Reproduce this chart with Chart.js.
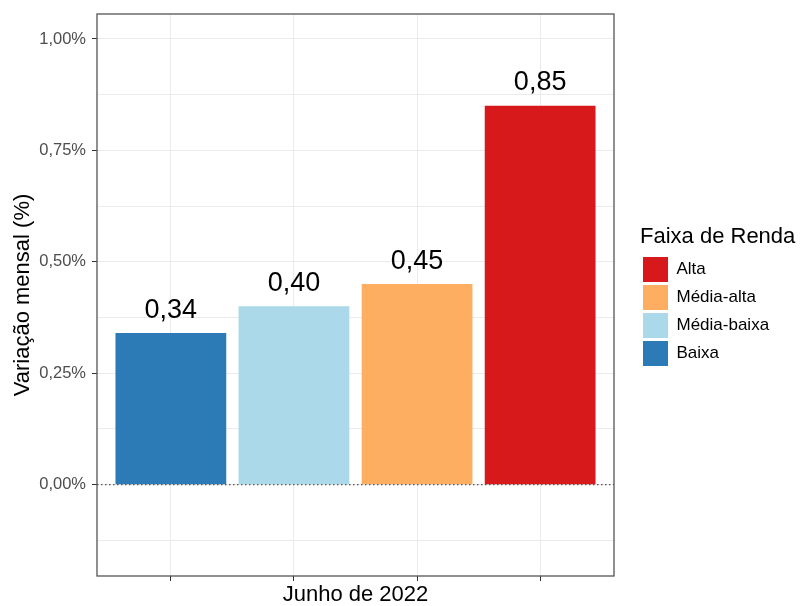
<!DOCTYPE html>
<html>
<head>
<meta charset="utf-8">
<title>Variação mensal por faixa de renda</title>
<script src="https://cdn.jsdelivr.net/npm/chart.js@4.4.0/dist/chart.umd.min.js"></script>
<style>
  html, body { margin: 0; padding: 0; background: #fff; }
</style>
</head>
<body>
<canvas id="barChart" width="802" height="606"></canvas>
<script>
  // data
  var categories = ["Baixa", "Média-baixa", "Média-alta", "Alta"];
  var values = [0.34, 0.40, 0.45, 0.85];
  var barColors = ["#2c7bb6", "#abd9e9", "#fdae61", "#d7191c"];
  var yMajorTicks = [0, 0.25, 0.5, 0.75, 1];
  var yMinorTicks = [-0.125, 0.125, 0.375, 0.625, 0.875];
  var xTitle = "Junho de 2022";
  var yTitle = "Variação mensal (%)";
  var legendTitle = "Faixa de Renda";

  var fontFamily = "'Liberation Sans', Arial, sans-serif";

  function fmt(v) {
    return v.toFixed(2).replace(".", ",");
  }

  // legend box gets a fixed width so the title is not clipped
  var legendWidth = {
    id: "legendWidth",
    beforeLayout: function (chart) {
      var lg = chart.legend;
      if (lg && !lg.fitWrapped) {
        var fit = lg.fit;
        lg.fit = function () {
          fit.call(this);
          this.width = 162;
        };
        lg.fitWrapped = true;
      }
    }
  };

  // dotted zero line, value labels and the panel frame
  var panelExtras = {
    id: "panelExtras",
    afterDatasetsDraw: function (chart) {
      var ctx = chart.ctx;
      var area = chart.chartArea;
      var y0 = chart.scales.y.getPixelForValue(0);
      ctx.save();

      ctx.strokeStyle = "#555";
      ctx.lineWidth = 1.3;
      ctx.setLineDash([1.5, 2.5]);
      ctx.beginPath();
      ctx.moveTo(area.left, y0);
      ctx.lineTo(area.right, y0);
      ctx.stroke();
      ctx.setLineDash([]);

      ctx.fillStyle = "#000";
      ctx.font = "27px " + fontFamily;
      ctx.textAlign = "center";
      ctx.textBaseline = "alphabetic";
      chart.getDatasetMeta(0).data.forEach(function (bar, i) {
        ctx.fillText(fmt(values[i]), bar.x, bar.y - 15.5);
      });

      ctx.strokeStyle = "#555";
      ctx.lineWidth = 1.3;
      ctx.strokeRect(area.left, area.top, area.right - area.left, area.bottom - area.top);
      ctx.restore();
    }
  };

  var ctxB = document.getElementById("barChart").getContext("2d");
  var myBarChart = new Chart(ctxB, {
    type: "bar",
    data: {
      datasets: [{
        label: "Variação mensal",
        data: values.map(function (v, i) { return { x: i + 1, y: v }; }),
        backgroundColor: barColors,
        borderWidth: 0,
        barPercentage: 0.9,
        categoryPercentage: 1
      }]
    },
    plugins: [legendWidth, panelExtras],
    options: {
      responsive: false,
      animation: false,
      layout: { padding: { top: 14, right: 0, bottom: 0, left: 0 } },
      scales: {
        x: {
          type: "linear",
          min: 0.4,
          max: 4.6,
          bounds: "data",
          offset: false,
          afterBuildTicks: function (scale) {
            scale.ticks = categories.map(function (c, i) { return { value: i + 1 }; });
          },
          ticks: { callback: function () { return ""; }, autoSkip: false },
          grid: { offset: false, color: "#ebebeb", tickColor: "#333", tickLength: 5 },
          border: { display: false },
          title: {
            display: true, text: xTitle, color: "#000",
            font: { family: fontFamily, size: 22, lineHeight: 1 }, padding: 0
          },
          afterFit: function (scale) {
            scale.height = 30;
            scale.paddingLeft = 0;
            scale.paddingRight = 0;
          }
        },
        y: {
          min: -0.205,
          max: 1.056,
          bounds: "data",
          afterBuildTicks: function (scale) {
            scale.ticks = yMinorTicks.concat(yMajorTicks)
              .sort(function (a, b) { return a - b; })
              .map(function (v) { return { value: v }; });
          },
          ticks: {
            autoSkip: false,
            color: "#4d4d4d",
            padding: 6,
            font: { family: fontFamily, size: 16.5 },
            callback: function (v) {
              return yMajorTicks.indexOf(v) >= 0 ? fmt(v) + "%" : "";
            }
          },
          grid: {
            color: "#ebebeb",
            tickLength: 5,
            tickColor: function (c) {
              return c.tick && yMajorTicks.indexOf(c.tick.value) >= 0 ? "#333" : "rgba(0,0,0,0)";
            }
          },
          border: { display: false },
          title: {
            display: true, text: yTitle, color: "#000",
            font: { family: fontFamily, size: 22, lineHeight: 1 },
            padding: { top: 12, bottom: 0 }
          },
          afterFit: function (scale) {
            scale.width = 97;
            scale.paddingTop = 0;
            scale.paddingBottom = 0;
          }
        },
        // empty axis, only keeps the legend away from the panel
        gap: {
          type: "linear",
          position: "right",
          grid: { display: false },
          ticks: { display: false },
          border: { display: false },
          afterFit: function (scale) { scale.width = 26; }
        }
      },
      plugins: {
        tooltip: { enabled: false },
        legend: {
          position: "right",
          align: "start",
          title: {
            display: true, text: legendTitle, color: "#000", position: "start",
            font: { family: fontFamily, size: 22, lineHeight: 1 },
            padding: { top: 212, bottom: 6 }
          },
          labels: {
            boxWidth: 25,
            boxHeight: 25,
            padding: 3,
            color: "#1a1a1a",
            font: { family: fontFamily, size: 17 },
            generateLabels: function () {
              return categories.map(function (c, i) {
                return { text: c, fillStyle: barColors[i], strokeStyle: barColors[i], lineWidth: 0, hidden: false, index: i };
              }).reverse();
            }
          }
        }
      }
    }
  });
</script>
</body>
</html>
